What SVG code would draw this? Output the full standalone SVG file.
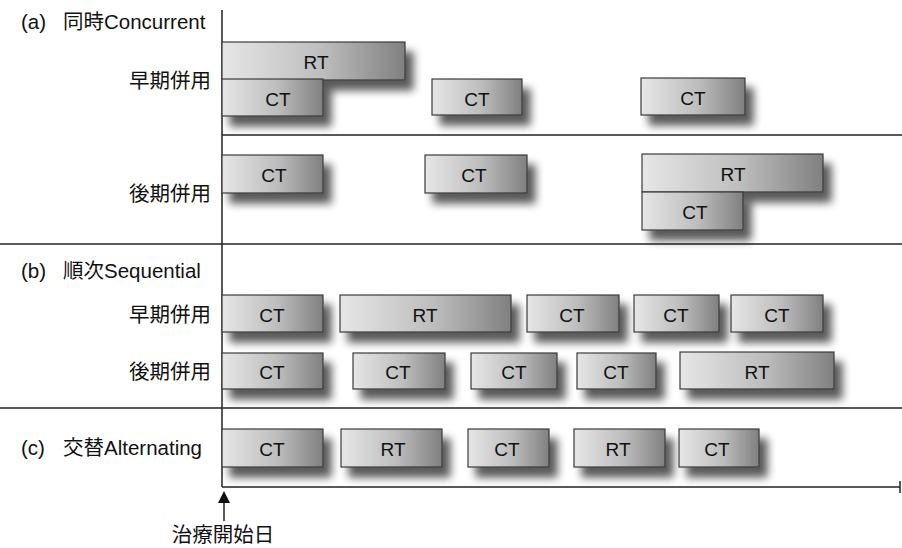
<svg xmlns="http://www.w3.org/2000/svg" width="902" height="548" viewBox="0 0 902 548">
<style>
.lbl{font-family:"Liberation Sans","Noto Sans CJK JP",sans-serif;font-size:20.5px;fill:#111}
.bt{font-family:"Liberation Sans",sans-serif;font-size:19px;fill:#111;text-anchor:middle}
.box rect{fill:url(#g);stroke:#3a3a3a;stroke-width:1.2;filter:url(#sh)}
.ln{stroke:#222;stroke-width:1.5;fill:none}
</style>
<defs>
<linearGradient id="g" x1="0" y1="0" x2="1" y2="0">
<stop offset="0" stop-color="#e6e6e6"/>
<stop offset="0.55" stop-color="#bdbdbd"/>
<stop offset="1" stop-color="#808080"/>
</linearGradient>
<filter id="sh" x="-20%" y="-30%" width="150%" height="200%">
<feGaussianBlur in="SourceAlpha" stdDeviation="4"/>
<feOffset dx="8" dy="10" result="b"/>
<feComponentTransfer><feFuncA type="linear" slope="0.65"/></feComponentTransfer>
<feMerge><feMergeNode/><feMergeNode in="SourceGraphic"/></feMerge>
</filter>
</defs>
<g id="labels">
<text class="lbl" y="29"><tspan x="21">(a)</tspan><tspan x="63">同時Concurrent</tspan></text>
<text class="lbl" x="211" y="88" text-anchor="end">早期併用</text>
<text class="lbl" x="211" y="201" text-anchor="end">後期併用</text>
<text class="lbl" y="278"><tspan x="21">(b)</tspan><tspan x="63">順次Sequential</tspan></text>
<text class="lbl" x="211" y="322" text-anchor="end">早期併用</text>
<text class="lbl" x="211" y="379" text-anchor="end">後期併用</text>
<text class="lbl" y="455"><tspan x="21">(c)</tspan><tspan x="63">交替Alternating</tspan></text>
<text class="lbl" x="223" y="542" text-anchor="middle">治療開始日</text>
</g>
<g id="connectors">
<line class="ln" x1="222" y1="10" x2="222" y2="487"/>
<line class="ln" x1="222" y1="135" x2="902" y2="135"/>
<line class="ln" x1="0" y1="244" x2="902" y2="244"/>
<line class="ln" x1="0" y1="408" x2="902" y2="408"/>
<line class="ln" x1="222" y1="487" x2="900" y2="487"/>
<line class="ln" x1="900" y1="481" x2="900" y2="493" stroke-width="2.5"/>
<line class="ln" x1="224" y1="502" x2="224" y2="521" stroke-width="2.2"/>
<polygon points="224,491 218,503 230,503" fill="#111"/>
</g>
<g id="a-early" class="box">
<g id="a1-rt"><rect x="222" y="42" width="183" height="38"/><text class="bt" x="316" y="69">RT</text></g>
<g id="a1-ct1"><rect x="222" y="79" width="101" height="37"/><text class="bt" x="278" y="106">CT</text></g>
<g id="a1-ct2"><rect x="432" y="79" width="90" height="36"/><text class="bt" x="477" y="106">CT</text></g>
<g id="a1-ct3"><rect x="641" y="78" width="104" height="37"/><text class="bt" x="693" y="105">CT</text></g>
</g>
<g id="a-late" class="box">
<g id="a2-ct1"><rect x="222" y="155" width="101" height="38"/><text class="bt" x="274" y="182">CT</text></g>
<g id="a2-ct2"><rect x="425" y="155" width="102" height="38"/><text class="bt" x="474" y="182">CT</text></g>
<g id="a2-rt"><rect x="642" y="154" width="181" height="38"/><text class="bt" x="733" y="181">RT</text></g>
<g id="a2-ct3"><rect x="642" y="192" width="101" height="38"/><text class="bt" x="695" y="219">CT</text></g>
</g>
<g id="b-early" class="box">
<g id="b1-ct1"><rect x="222" y="295" width="101" height="37"/><text class="bt" x="272" y="322">CT</text></g>
<g id="b1-rt"><rect x="340" y="295" width="171" height="37"/><text class="bt" x="425" y="322">RT</text></g>
<g id="b1-ct2"><rect x="527" y="295" width="92" height="37"/><text class="bt" x="572" y="322">CT</text></g>
<g id="b1-ct3"><rect x="634" y="295" width="85" height="37"/><text class="bt" x="676" y="322">CT</text></g>
<g id="b1-ct4"><rect x="731" y="295" width="92" height="37"/><text class="bt" x="777" y="322">CT</text></g>
</g>
<g id="b-late" class="box">
<g id="b2-ct1"><rect x="222" y="353" width="101" height="36"/><text class="bt" x="272" y="379">CT</text></g>
<g id="b2-ct2"><rect x="353" y="353" width="92" height="36"/><text class="bt" x="398" y="379">CT</text></g>
<g id="b2-ct3"><rect x="471" y="353" width="86" height="36"/><text class="bt" x="514" y="379">CT</text></g>
<g id="b2-ct4"><rect x="577" y="353" width="79" height="36"/><text class="bt" x="616" y="379">CT</text></g>
<g id="b2-rt"><rect x="680" y="352" width="154" height="37"/><text class="bt" x="757" y="379">RT</text></g>
</g>
<g id="c-alt" class="box">
<g id="c-ct1"><rect x="222" y="429" width="101" height="38"/><text class="bt" x="272" y="456">CT</text></g>
<g id="c-rt1"><rect x="341" y="429" width="101" height="38"/><text class="bt" x="393" y="456">RT</text></g>
<g id="c-ct2"><rect x="468" y="429" width="81" height="38"/><text class="bt" x="507" y="456">CT</text></g>
<g id="c-rt2"><rect x="574" y="429" width="91" height="38"/><text class="bt" x="618" y="456">RT</text></g>
<g id="c-ct3"><rect x="679" y="429" width="80" height="38"/><text class="bt" x="717" y="456">CT</text></g>
</g>
</svg>
